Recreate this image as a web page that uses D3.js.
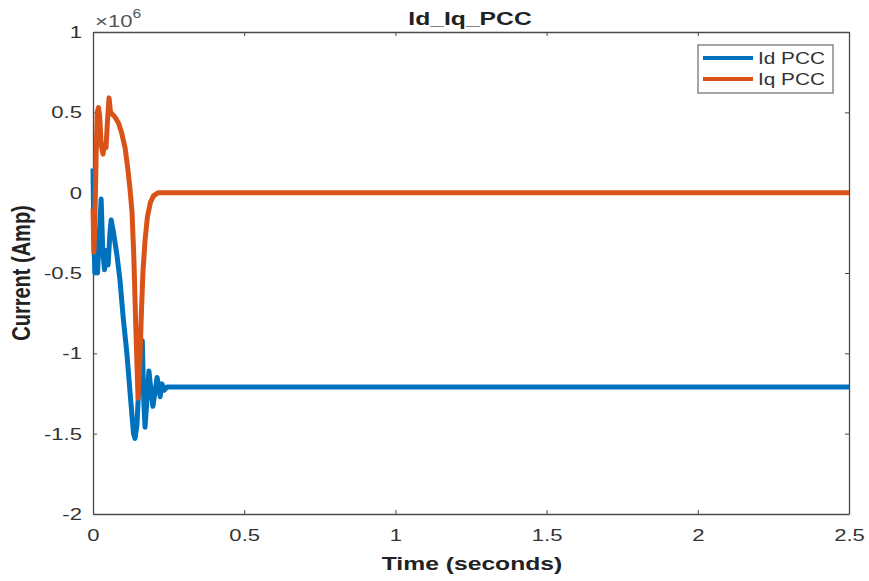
<!DOCTYPE html>
<html>
<head>
<meta charset="utf-8">
<script src="https://cdn.jsdelivr.net/npm/d3@7"></script>
<style>
  body { margin: 0; background: #fff; }
  text { font-family: "Liberation Sans", Arial, sans-serif; }
</style>
</head>
<body>
<div id="chart"></div>
<script>
// values are in units of 1e6 A (axis multiplier shown as x10^6)
const idTime = [0, 0.003, 0.006, 0.01, 0.015, 0.02, 0.027, 0.032, 0.038, 0.044, 0.05, 0.056, 0.06,
    0.068, 0.08, 0.089, 0.1, 0.112, 0.125, 0.134, 0.139, 0.145, 0.152, 0.157, 0.163, 0.168, 0.172,
    0.178, 0.185, 0.19, 0.198, 0.205, 0.212, 0.218, 0.222, 0.228, 0.235, 0.245, 0.5, 1, 1.5, 2, 2.5];
const idValues = [0.15, -0.3, -0.5, -0.45, -0.5, -0.3, -0.04, -0.35, -0.48, -0.36, -0.45, -0.25, -0.17,
    -0.25, -0.4, -0.54, -0.78, -1.0, -1.3, -1.5, -1.53, -1.45, -1.2, -1.05, -0.92, -1.3, -1.46,
    -1.3, -1.11, -1.2, -1.33, -1.24, -1.15, -1.22, -1.27, -1.19, -1.23, -1.21, -1.21, -1.21, -1.21, -1.21, -1.21];

const iqTime = [0, 0.003, 0.006, 0.01, 0.014, 0.018, 0.022, 0.027, 0.033, 0.038, 0.043, 0.048, 0.053,
    0.058, 0.063, 0.073, 0.085, 0.095, 0.106, 0.115, 0.122, 0.129, 0.135, 0.141, 0.146, 0.149,
    0.155, 0.16, 0.165, 0.172, 0.18, 0.19, 0.2, 0.215, 0.5, 1, 1.5, 2, 2.5];
const iqValues = [-0.1, -0.37, -0.2, 0.2, 0.5, 0.53, 0.48, 0.3, 0.24, 0.3, 0.28, 0.45, 0.59,
    0.5, 0.49, 0.47, 0.43, 0.37, 0.28, 0.15, 0.03, -0.12, -0.4, -0.8, -1.1, -1.28,
    -1.05, -0.75, -0.5, -0.3, -0.15, -0.06, -0.02, 0, 0, 0, 0, 0, 0];

const xTicks = [0, 0.5, 1, 1.5, 2, 2.5];
const yTicks = [-2, -1.5, -1, -0.5, 0, 0.5, 1];
const seriesNames = ['Id PCC', 'Iq PCC'];
const seriesColors = ['#0072BD', '#D95319'];

const width = 869;
const height = 581;
const stretch = 1.3;   // the picture is stretched sideways

const x = d3.scaleLinear().domain([0, 2.5]).range([93, 849]);
const y = d3.scaleLinear().domain([-2, 1]).range([514, 32]);

const svg = d3.select('#chart')
    .append('svg')
    .attr('width', width)
    .attr('height', height);

const axisColor = '#4a4a4a';
const fmt = d => String(d);

// plot area axes, ticks inward
const axisB = svg.append('g')
    .attr('transform', `translate(0,${y(-2)})`)
    .call(d3.axisBottom(x).tickValues(xTicks).tickSizeInner(-4).tickSizeOuter(0).tickPadding(15).tickFormat(fmt));
const axisT = svg.append('g')
    .attr('transform', `translate(0,${y(1)})`)
    .call(d3.axisTop(x).tickValues(xTicks).tickSizeInner(-4).tickSizeOuter(0).tickFormat(''));
const axisL = svg.append('g')
    .attr('transform', `translate(${x(0)},0)`)
    .call(d3.axisLeft(y).tickValues(yTicks).tickSizeInner(-4).tickSizeOuter(0).tickPadding(11).tickFormat(fmt));
const axisR = svg.append('g')
    .attr('transform', `translate(${x(2.5)},0)`)
    .call(d3.axisRight(y).tickValues(yTicks).tickSizeInner(-4).tickSizeOuter(0).tickFormat(''));

[axisB, axisT, axisL, axisR].forEach(g => {
    g.select('.domain').attr('stroke', axisColor).attr('stroke-width', 1.3);
    g.selectAll('.tick line').attr('stroke', axisColor);
    g.selectAll('.tick text')
        .attr('fill', '#333')
        .style('font-size', '17px');
});
axisB.selectAll('.tick text').attr('transform', `scale(${stretch},1)`);
axisL.selectAll('.tick text')
    .attr('x', -11 / stretch)
    .attr('transform', `scale(${stretch},1)`);

// data lines
const line = d3.line()
    .x(d => x(d[0]))
    .y(d => y(d[1]));

const idData = d3.zip(idTime, idValues);
const iqData = d3.zip(iqTime, iqValues);

svg.append('path')
    .datum(idData)
    .attr('d', line)
    .attr('fill', 'none')
    .attr('stroke', seriesColors[0])
    .attr('stroke-width', 5)
    .attr('stroke-linejoin', 'round');

svg.append('path')
    .datum(iqData)
    .attr('d', line)
    .attr('fill', 'none')
    .attr('stroke', seriesColors[1])
    .attr('stroke-width', 5)
    .attr('stroke-linejoin', 'round');

// stretched text helper
const label = (tx, ty, str, size, weight, anchor, rotate) => {
    return svg.append('text')
        .attr('transform', rotate
            ? `translate(${tx},${ty}) rotate(-90) scale(1,${stretch})`
            : `translate(${tx},${ty}) scale(${stretch},1)`)
        .attr('text-anchor', anchor)
        .style('font-size', size + 'px')
        .style('font-weight', weight)
        .attr('fill', '#222')
        .text(str);
};

label(470, 25, 'Id_Iq_PCC', 19, 'bold', 'middle');
label(472, 570, 'Time (seconds)', 19, 'bold', 'middle');
label(30, 273, 'Current (Amp)', 20, 'bold', 'middle', true);

// x10^6 multiplier
const mult = svg.append('text')
    .attr('transform', `translate(95,27) scale(${stretch},1)`)
    .style('font-size', '17px')
    .attr('fill', '#555');
mult.append('tspan').text('\u00d710');
mult.append('tspan').attr('dy', -9).style('font-size', '12px').text('6');

// legend
const legend = svg.append('g');
legend.append('rect')
    .attr('x', 698).attr('y', 45)
    .attr('width', 135).attr('height', 48)
    .attr('fill', '#fff')
    .attr('stroke', '#777')
    .attr('stroke-width', 1.3);
seriesNames.forEach((name, i) => {
    const ly = 58 + i * 21;
    legend.append('line')
        .attr('x1', 703).attr('x2', 753)
        .attr('y1', ly).attr('y2', ly)
        .attr('stroke', seriesColors[i])
        .attr('stroke-width', 4);
    legend.append('text')
        .attr('transform', `translate(758,${ly + 6}) scale(${stretch},1)`)
        .style('font-size', '16px')
        .attr('fill', '#333')
        .text(name);
});
</script>
</body>
</html>
